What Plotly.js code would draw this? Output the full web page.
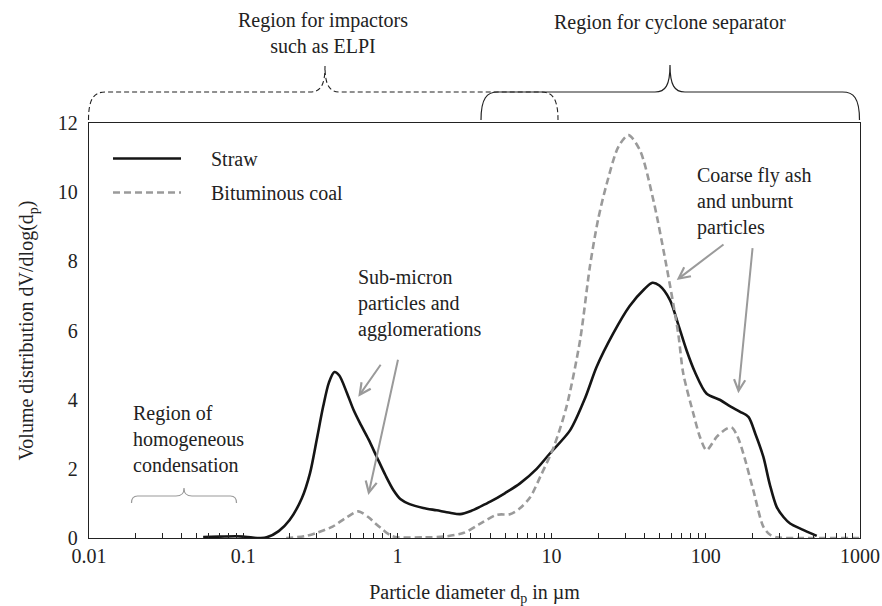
<!DOCTYPE html>
<html>
<head>
<meta charset="utf-8">
<script src="https://cdn.plot.ly/plotly-3.0.1.min.js"></script>
<style>html,body{margin:0;padding:0;background:#fff;}</style>
</head>
<body>
<div id="chart" style="width:882px;height:606px;"></div>
<script>
// ---- data ----
const strawX = [0.055, 0.07, 0.09, 0.1, 0.115, 0.13, 0.142, 0.17, 0.2, 0.24, 0.271, 0.30, 0.33, 0.36, 0.39, 0.42, 0.47, 0.52, 0.572, 0.65, 0.734, 0.84, 0.941, 1.05, 1.2, 1.47, 1.8, 2.19, 2.55, 3.0, 3.5, 4.0, 5.0, 6.24, 8.0, 9.77, 13.2, 16.5, 19.6, 25, 32, 40, 45, 50, 58.6, 66, 75, 85, 101, 124, 145, 167, 189, 210, 236, 260, 288, 320, 352, 420, 524];
const strawY = [0.03, 0.04, 0.05, 0.04, 0.01, 0.0, 0.02, 0.2, 0.52, 1.15, 1.87, 2.85, 3.8, 4.5, 4.8, 4.7, 4.2, 3.7, 3.32, 2.85, 2.35, 1.8, 1.39, 1.12, 0.98, 0.87, 0.8, 0.73, 0.69, 0.78, 0.92, 1.05, 1.3, 1.58, 2.0, 2.45, 3.12, 4.05, 4.95, 5.9, 6.7, 7.2, 7.38, 7.3, 6.88, 6.2, 5.43, 4.8, 4.18, 3.99, 3.8, 3.65, 3.5, 3.0, 2.35, 1.55, 0.9, 0.6, 0.42, 0.25, 0.06];
const coalX = [0.19, 0.25, 0.3, 0.38, 0.47, 0.557, 0.65, 0.72, 0.81, 0.9, 1.0, 1.5, 2.0, 2.7, 3.4, 4.4, 5.37, 6.2, 7.24, 8.5, 10.3, 12.5, 15.3, 17.7, 20, 22.8, 27.1, 31.5, 37.4, 45.7, 55.7, 66.2, 71.4, 83, 92, 101, 118, 135, 147, 160, 175, 203, 236, 260, 288, 400, 1000];
const coalY = [0.0, 0.05, 0.15, 0.33, 0.6, 0.77, 0.6, 0.42, 0.23, 0.08, 0.02, 0.02, 0.04, 0.15, 0.4, 0.67, 0.69, 0.85, 1.17, 1.8, 2.62, 3.8, 5.72, 7.84, 9.2, 10.25, 11.31, 11.65, 11.21, 9.77, 7.84, 5.92, 4.76, 3.6, 2.9, 2.54, 2.93, 3.15, 3.2, 2.95, 2.45, 1.39, 0.33, 0.1, 0.02, 0.0, 0.0];

const seriesNames = ['Straw', 'Bituminous coal'];
const xTickVals = [0.01, 0.1, 1, 10, 100, 1000];
const xTickText = ['0.01', '0.1', '1', '10', '100', '1000'];
const yTickVals = [0, 2, 4, 6, 8, 10, 12];

// minor tick positions (2..9 of each decade)
const minorVals = [];
for (let d = -2; d < 3; d++) for (let m = 2; m <= 9; m++) minorVals.push(m * Math.pow(10, d));

// ---- geometry helpers (pixel -> paper) ----
const L = 89, R = 860, T = 123, B = 538;
const X = x => ((x - L) / (R - L)).toFixed(5);
const Y = y => ((B - y) / (B - T)).toFixed(5);
const XN = x => (x - L) / (R - L);
const YN = y => (B - y) / (B - T);

function brace(l, r, base, h, tip, top, cw, tw) {
  return `M${X(l)},${Y(base)} C${X(l)},${Y(h + cw * 0.35)} ${X(l + cw * 0.35)},${Y(h)} ${X(l + cw)},${Y(h)} ` +
    `L${X(tip - tw)},${Y(h)} C${X(tip - tw * 0.3)},${Y(h)} ${X(tip)},${Y(h - (h - top) * 0.25)} ${X(tip)},${Y(top)} ` +
    `C${X(tip)},${Y(h - (h - top) * 0.25)} ${X(tip + tw * 0.3)},${Y(h)} ${X(tip + tw)},${Y(h)} ` +
    `L${X(r - cw)},${Y(h)} C${X(r - cw * 0.35)},${Y(h)} ${X(r)},${Y(h + cw * 0.35)} ${X(r)},${Y(base)}`;
}

const FONT = 'Liberation Serif';
const TXT = '#222';
const NB = '\u00a0\u00a0\u00a0\u00a0\u00a0';

const traces = [
  {x: strawX, y: strawY, name: NB + seriesNames[0], type: 'scatter', mode: 'lines',
    line: {color: '#151515', width: 2.6, shape: 'spline', smoothing: 0.8}, legendgroup: 'a'},
  {x: coalX, y: coalY, name: NB + seriesNames[1], type: 'scatter', mode: 'lines',
    line: {color: '#9a9a9a', width: 2.6, dash: '7px,4px', shape: 'spline', smoothing: 0.8}, legendgroup: 'b'}
];

function arrow(tx, ty, hx, hy) {
  return {xref: 'paper', yref: 'paper', x: XN(hx), y: YN(hy),
    axref: 'pixel', ayref: 'pixel', ax: tx - hx, ay: ty - hy,
    text: '', showarrow: true, arrowhead: 5, arrowsize: 1.1, arrowwidth: 2, arrowcolor: '#9a9a9a'};
}
function label(text, x, y, xanchor) {
  return {xref: 'paper', yref: 'paper', x: XN(x), y: YN(y), text: text, showarrow: false,
    xanchor: xanchor || 'left', yanchor: 'middle', align: xanchor === 'center' ? 'center' : 'left',
    font: {family: FONT, size: 20, color: TXT}};
}

const layout = {
  width: 882, height: 606,
  margin: {l: L, r: 882 - R, t: T, b: 606 - B},
  paper_bgcolor: '#fff', plot_bgcolor: '#fff',
  font: {family: FONT, size: 20, color: TXT},
  showlegend: true,
  legend: {x: XN(108), y: YN(139), xanchor: 'left', yanchor: 'top',
    bgcolor: 'rgba(0,0,0,0)', itemwidth: 68, traceorder: 'grouped', tracegroupgap: 5,
    font: {family: FONT, size: 20, color: TXT}},
  xaxis: {type: 'log', range: [-2, 3], showgrid: false, zeroline: false,
    showline: true, linecolor: '#222', linewidth: 1.3, mirror: true,
    tickvals: xTickVals, ticktext: xTickText,
    ticks: 'inside', ticklen: 5, tickwidth: 1, tickcolor: '#222',
    minor: {tickvals: minorVals, ticks: 'inside', ticklen: 5, tickwidth: 1, tickcolor: '#222', showgrid: false},
    tickfont: {family: FONT, size: 20, color: TXT},
    title: {text: 'Particle diameter d<sub>p</sub> in µm', font: {family: FONT, size: 20, color: TXT}, standoff: 30}},
  yaxis: {range: [0, 12], showgrid: false, zeroline: false,
    showline: true, linecolor: '#222', linewidth: 1.3, mirror: true,
    tickvals: yTickVals, ticks: '', ticklabelstandoff: 6,
    tickfont: {family: FONT, size: 20, color: TXT},
    title: {text: 'Volume distribution dV/dlog(d<sub>p</sub>)', font: {family: FONT, size: 20, color: TXT}, standoff: 18}},
  shapes: [
    {type: 'path', xref: 'paper', yref: 'paper', path: brace(88.5, 558, 120, 92, 325, 66, 17, 15),
      line: {color: '#222', width: 1.1, dash: '5px,3px'}},
    {type: 'path', xref: 'paper', yref: 'paper', path: brace(481, 859.5, 120, 92, 670, 65, 17, 15),
      line: {color: '#222', width: 1.2}},
    {type: 'path', xref: 'paper', yref: 'paper', path: brace(131.5, 236.5, 503, 496, 184, 488, 6, 8),
      line: {color: '#9a9a9a', width: 1.2}}
  ],
  annotations: [
    label('Region for impactors<br>such as ELPI', 323, 33.5, 'center'),
    label('Region for cyclone separator', 670, 22, 'center'),
    label('Sub-micron<br>particles and<br>agglomerations', 356, 303),
    label('Coarse fly ash<br>and unburnt<br>particles', 695, 201),
    label('Region of<br>homogeneous<br>condensation', 131, 439),
    arrow(381.7, 363.3, 358.3, 396.7),
    arrow(398.3, 358.3, 368.3, 495),
    arrow(725, 243.3, 676.7, 280),
    arrow(752.7, 246.7, 738.3, 393.3)
  ]
};

Plotly.newPlot('chart', traces, layout, {staticPlot: true, displayModeBar: false});
</script>
</body>
</html>
